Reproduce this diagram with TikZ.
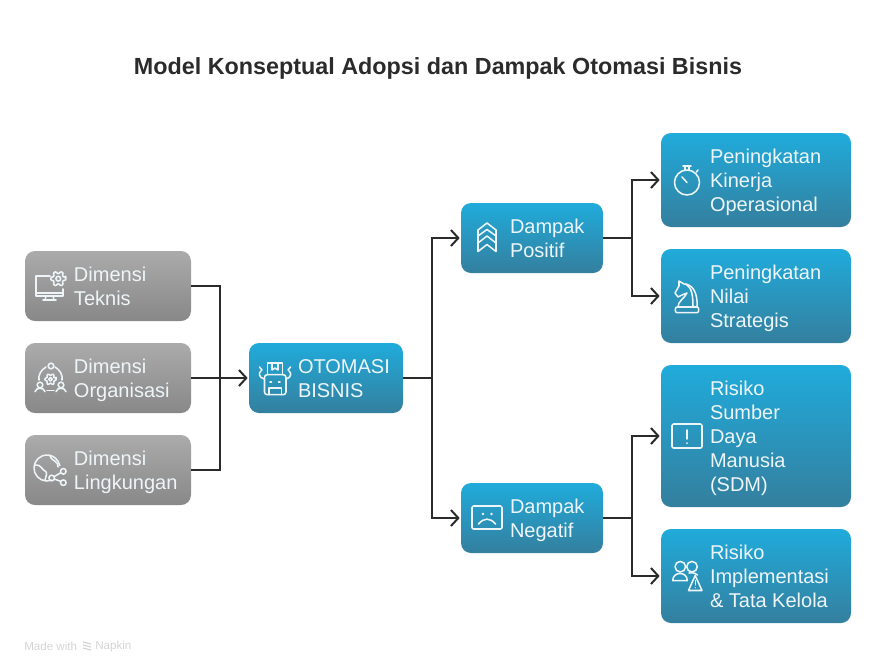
\documentclass[tikz,border=0pt]{standalone}
\usepackage{xcolor}
\usepackage{fontspec}
\setmainfont{Liberation Sans}
\usetikzlibrary{arrows.meta,positioning}

\definecolor{inkdark}{HTML}{2B2B2B}
\definecolor{bluetop}{HTML}{20ABDB}
\definecolor{bluebottom}{HTML}{347F9E}
\definecolor{greytop}{HTML}{ABABAB}
\definecolor{greybottom}{HTML}{888888}
\definecolor{iconlight}{HTML}{EEF5F8}
\definecolor{footergrey}{HTML}{D4D4D4}

% icons, drawn around (0,0), one unit is one pixel of the reference
\tikzset{
  icon/.style={draw=iconlight, line width=1.15pt, line cap=round, line join=round},
  pics/gear/.style={code={
    \draw[icon] (0,0) circle[radius=2.4];
    \draw[icon, rounded corners=.6] (-12:7.6) \foreach \a in {0,60,...,300} { -- (\a-12:7.6) -- (\a+12:7.6) -- (\a+20:5.2) -- (\a+40:5.2) } -- cycle;
  }},
  pics/monitor/.style={code={
    \draw[icon] (1,-10) -- (-13,-10) -- (-13,10) -- (14,10) -- (14,3);
    \draw[icon] (-13,7) -- (14,7);
    \draw[icon] (-3,10) -- (-4,14) (4,10) -- (5,14) (-6,14) -- (7,14);
    \pic at (9.3,-7.3) {gear};
  }},
  pics/orgteam/.style={code={
    \draw[icon] (0,-12) circle[radius=2.8];
    \draw[icon] (-11,7) circle[radius=2.8] (10,7) circle[radius=2.8];
    \draw[icon] (-16,13.7) .. controls (-15,9) and (-7,9) .. (-6,13.7);
    \draw[icon] (5,13.7) .. controls (6,9) and (14,9) .. (15,13.7);
    \draw[icon] (-4,12.7) -- (3,12.7);
    \draw[icon] (-5,-11) .. controls (-10,-8) and (-13,-3) .. (-12,2);
    \draw[icon] (4,-11) .. controls (9,-8) and (12,-3) .. (11,2);
    \pic[scale=.75] at (-.5,1.3) {gear};
  }},
  pics/globe/.style={code={
    \draw[icon] (-2,-2) ++(70:13) arc[start angle=70, end angle=350, radius=13];
    \draw[icon] (-14,-5) .. controls (-8,-6) and (-7,0) .. (-4,1) .. controls (-1,2) and (-3,6) .. (-4,10);
    \draw[icon] (1,-14) .. controls (2,-9) and (9,-10) .. (9,-3);
    \draw[icon] (2.7,8) circle[radius=2.8] (14.3,1.3) circle[radius=2.8] (14.3,12.7) circle[radius=2.8];
    \draw[icon] (5.2,6.6) -- (11.8,2.7) (5.3,9) -- (11.8,11.4);
  }},
  pics/robot/.style={code={
    \draw[icon] (-7.3,-3.3) -- (-7.3,-15) -- (7.3,-15) -- (7.3,-3.3);
    \draw[icon] (-3,-15) -- (-3,-8) -- (0,-10) -- (3,-8) -- (3,-15);
    \draw[icon, rounded corners=2] (-10.5,-3.3) rectangle (11,16.7);
    \draw[icon] (-5,4) -- (-3.5,4) (3.5,4) -- (5,4);
    \draw[icon] (-6,16.7) -- (-6,10) -- (6.5,10) -- (6.5,16.7);
    \draw[icon] (-10.5,1) .. controls (-16,0) and (-17,-5) .. (-14,-7) (-15.5,-11) -- (-13,-8);
    \draw[icon] (11,1) .. controls (16,0) and (17,-5) .. (14,-7) (15.5,-11) -- (13,-8);
  }},
  pics/chevrons/.style={code={
    \draw[icon] (-9,-2) -- (-9,-8) -- (0,-15) -- (9,-8) -- (9,-2) -- (0,-8.5) -- cycle;
    \draw[icon] (-9,-2) -- (-9,5) -- (0,-2) -- (9,5) -- (9,-2);
    \draw[icon] (-9,5) -- (-9,13.5) -- (0,6.5) -- (9,13.5) -- (9,5);
  }},
  pics/sadface/.style={code={
    \draw[icon, rounded corners=1] (-15,-12) rectangle (15,11);
    \fill[iconlight] (-4,-4) circle[radius=1.3] (4.5,-4) circle[radius=1.3];
    \draw[icon] (-8.5,6) .. controls (-3,-.5) and (3,-.5) .. (8.5,6);
  }},
  pics/stopwatch/.style={code={
    \draw[icon] (0,2.5) circle[radius=12.5];
    \draw[icon] (-4,-14) -- (4,-14) (-2,-14) -- (-2,-10) (2,-14) -- (2,-10);
    \draw[icon] (9.5,-8) -- (11,-10);
    \draw[icon] (0,2.5) -- (-5,-3);
  }},
  pics/knight/.style={code={
    \draw[icon, rounded corners=1.5] (-11.7,11) rectangle (11.7,16.7);
    \draw[icon] (-9,11) .. controls (-9,5) and (-3,3) .. (0,-3) -- (-5,-1) -- (-9,1) -- (-12,-3) -- (-8,-10) -- (-8,-15) -- (-3,-12) .. controls (5,-12) and (11,-4) .. (10,11);
    \draw[icon] (-1,-12) .. controls (5,-8) and (6,0) .. (6,11);
  }},
  pics/alertbox/.style={code={
    \draw[icon, rounded corners=1] (-15,-12) rectangle (15,12);
    \draw[icon] (0,-6) -- (0,3);
    \fill[iconlight] (0,7) circle[radius=1];
  }},
  pics/teamwarn/.style={code={
    \draw[icon] (-6.7,-9.3) circle[radius=5.3] (5,-9.3) circle[radius=5.3];
    \draw[icon] (-14.3,4.7) .. controls (-14.3,-5) and (0.3,-5) .. (0.3,4.7) -- cycle;
    \draw[icon] (2,-3) .. controls (6,-3.5) and (9,-3) .. (10.5,-1);
    \draw[icon] (8.2,-.5) -- (1.5,14.5) -- (15,14.5) -- cycle;
    \draw[icon, line width=.8pt] (8.2,4.5) -- (8.2,9);
    \fill[iconlight] (8.2,11.8) circle[radius=.7];
  }},
}

\begin{document}
\begin{tikzpicture}[
  x=.75pt, y=-.75pt,
  node distance=16.5pt,
  box/.style={rounded corners=7.5pt, minimum height=52.5pt, inner sep=0pt, outer sep=0pt},
  greybox/.style={box, top color=greytop, bottom color=greybottom, minimum width=124.5pt},
  bluebox/.style={box, top color=bluetop, bottom color=bluebottom},
  tallbox/.style={bluebox, minimum width=142.5pt, minimum height=70.5pt},
  boxtext/.style={inner sep=0pt, outer sep=0pt, yshift=-3.1pt, align=left, text=iconlight, font=\fontsize{15}{18}\selectfont, execute at begin node=\strut, execute at end node=\strut},
  footertext/.style={inner sep=0pt, anchor=west, text=footergrey, font=\fontsize{8.7}{10}\selectfont},
  link/.style={draw=inkdark, line width=1.5pt},
  arrow/.style={link, -{Straight Barb[length=5.5pt,width=12pt]}, shorten >=1pt}
]
  \useasboundingbox (0,0) rectangle (876,672);

  \node[inner sep=0pt, text=inkdark, font=\fontsize{17.5}{22}\selectfont\bfseries] (title) at (438,68) {Model Konseptual Adopsi dan Dampak Otomasi Bisnis};

  % left column
  \node[greybox] (teknis) at (108,286) {};
  \node[greybox, below=of teknis] (organisasi) {};
  \node[greybox, below=of organisasi] (lingkungan) {};

  % middle
  \node[bluebox, minimum width=115.5pt, right=43.5pt of organisasi] (otomasi) {};
  \node[bluebox, minimum width=106.5pt] (positif) at (532,238) {};
  \node[bluebox, minimum width=106.5pt] (negatif) at (532,518) {};

  % right column
  \node[tallbox] (kinerja) at (756,180) {};
  \node[tallbox, below=of kinerja] (nilai) {};
  \node[tallbox, minimum height=106.5pt, below=of nilai] (sdm) {};
  \node[tallbox, below=of sdm] (tatakelola) {};

  % texts
  \node[boxtext, right=36.75pt of teknis.west] (teknistext) {Dimensi\\Teknis};
  \node[boxtext, right=36.75pt of organisasi.west] (organisasitext) {Dimensi\\Organisasi};
  \node[boxtext, right=36.75pt of lingkungan.west] (lingkungantext) {Dimensi\\Lingkungan};
  \node[boxtext, right=36.75pt of otomasi.west] (otomasitext) {OTOMASI\\BISNIS};
  \node[boxtext, right=36.75pt of positif.west] (positiftext) {Dampak\\Positif};
  \node[boxtext, right=36.75pt of negatif.west] (negatiftext) {Dampak\\Negatif};
  \node[boxtext, right=36.75pt of kinerja.west] (kinerjatext) {Peningkatan\\Kinerja\\Operasional};
  \node[boxtext, right=36.75pt of nilai.west] (nilaitext) {Peningkatan\\Nilai\\Strategis};
  \node[boxtext, right=36.75pt of sdm.west] (sdmtext) {Risiko\\Sumber\\Daya\\Manusia\\(SDM)};
  \node[boxtext, right=36.75pt of tatakelola.west] (tatakelolatext) {Risiko\\Implementasi\\\& Tata Kelola};

  % icons
  \pic at ([xshift=18pt]teknis.west) {monitor};
  \pic at ([xshift=19.5pt]organisasi.west) {orgteam};
  \pic at ([xshift=18pt]lingkungan.west) {globe};
  \pic at ([xshift=19.5pt]otomasi.west) {robot};
  \pic at ([xshift=19.5pt]positif.west) {chevrons};
  \pic at ([xshift=19.5pt]negatif.west) {sadface};
  \pic at ([xshift=19.5pt]kinerja.west) {stopwatch};
  \pic at ([xshift=19.5pt]nilai.west) {knight};
  \pic at ([xshift=19.5pt]sdm.west) {alertbox};
  \pic at ([xshift=19.5pt]tatakelola.west) {teamwarn};

  % connectors
  \coordinate (joinleft) at (220,378);
  \coordinate (joinmid) at (432,378);
  \coordinate (jointop) at (632,238);
  \coordinate (joinbottom) at (632,518);

  \draw[link] (teknis) -| (joinleft);
  \draw[link] (lingkungan) -| (joinleft);
  \draw[arrow] (organisasi) -- (otomasi);

  \draw[link] (otomasi) -- (joinmid);
  \draw[arrow] (joinmid) |- (positif);
  \draw[arrow] (joinmid) |- (negatif);

  \draw[link] (positif) -- (jointop);
  \draw[arrow] (jointop) |- (kinerja);
  \draw[arrow] (jointop) |- (nilai);

  \draw[link] (negatif) -- (joinbottom);
  \draw[arrow] (joinbottom) |- (sdm);
  \draw[arrow] (joinbottom) |- (tatakelola);

  % footer
  \node[footertext] (madewith) at (24,646) {Made with};
  \node[footertext] (napkin) at (95,646) {Napkin};
  \foreach \y in {642,645,648} \draw[footergrey, line width=.9pt] (83,\y) -- (91,\y+2);
\end{tikzpicture}
\end{document}
